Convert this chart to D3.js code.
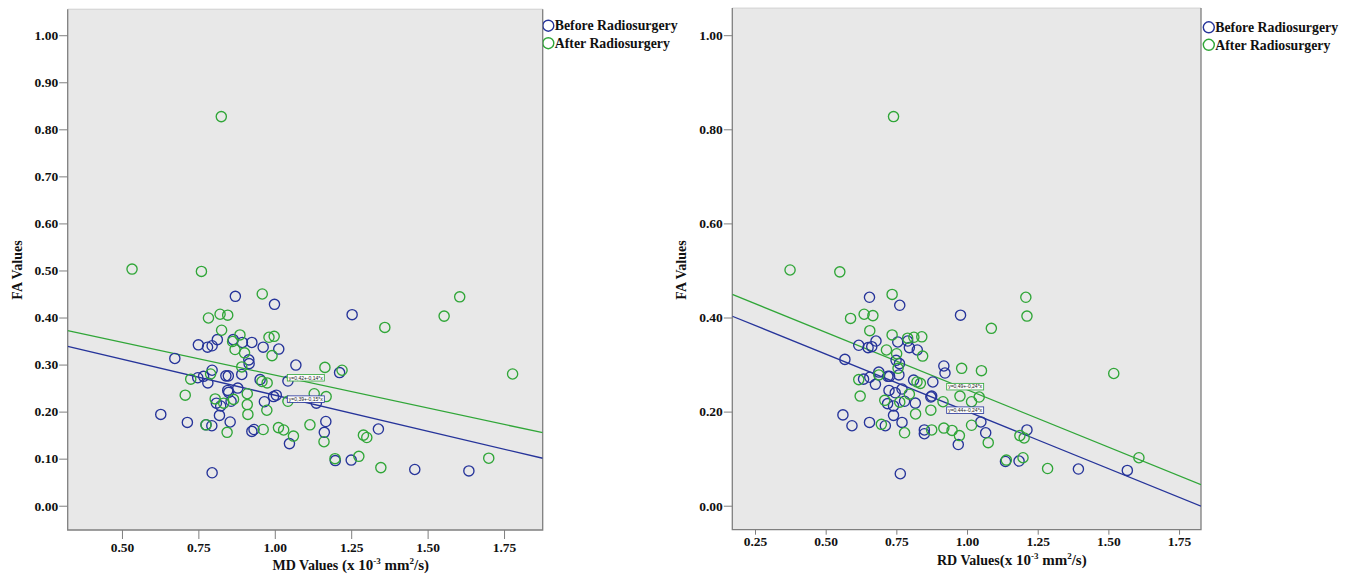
<!DOCTYPE html>
<html lang="en">
<head>
<meta charset="UTF-8">
<title>FA vs MD / RD values</title>
<script src="https://d3js.org/d3.v7.min.js"></script>
<style>
  body { margin: 0; background: #ffffff; }
  svg { display: block; font-family: "Liberation Serif", "Times New Roman", serif; }
  .tick text { font-size: 13.5px; font-weight: bold; fill: #111; font-family: "Liberation Serif", serif; }
  .tick line { stroke: #7f7f7f; }
  .axis-title { font-weight: bold; fill: #111; }
  .legend-text { font-size: 13.8px; font-weight: bold; fill: #111; }
  .fit-label { font-family: "Liberation Sans", Arial, sans-serif; font-size: 5px; fill: #222; }
</style>
</head>
<body>
<svg id="chart" width="1346" height="574"></svg>
<script>
// ---- data ----
const groups = ["Before Radiosurgery", "After Radiosurgery"];
const groupColors = ["#26349a", "#30a638"];

const faTicksMD = [0, 0.1, 0.2, 0.3, 0.4, 0.5, 0.6, 0.7, 0.8, 0.9, 1.0];
const faTicksRD = [0, 0.2, 0.4, 0.6, 0.8, 1.0];
const mdTicks = [0.5, 0.75, 1.0, 1.25, 1.5, 1.75];
const rdTicks = [0.25, 0.5, 0.75, 1.0, 1.25, 1.5, 1.75];

// [MD, FA]
const mdBefore = [
  [0.871,0.445],[0.999,0.428],[1.253,0.406],[0.750,0.342],[0.780,0.337],[0.795,0.340],
  [0.812,0.353],[0.864,0.353],[0.894,0.347],[0.925,0.347],[0.962,0.337],[1.013,0.333],
  [0.673,0.313],[0.915,0.310],[0.916,0.302],[1.069,0.299],[0.748,0.272],[0.767,0.275],
  [0.781,0.261],[0.795,0.288],[0.840,0.276],[0.848,0.276],[0.892,0.279],[0.952,0.268],
  [1.043,0.265],[1.212,0.283],[0.846,0.245],[0.849,0.241],[0.879,0.250],[0.809,0.218],
  [0.823,0.212],[0.857,0.222],[0.966,0.221],[0.996,0.232],[1.005,0.235],[1.136,0.218],
  [0.819,0.192],[0.854,0.178],[0.627,0.194],[0.714,0.177],[0.775,0.172],[0.794,0.170],
  [0.925,0.158],[0.932,0.162],[1.048,0.132],[1.167,0.179],[1.162,0.156],[1.339,0.163],
  [1.198,0.096],[1.250,0.097],[0.795,0.070],[1.458,0.077],[1.635,0.074]
];
const mdAfter = [
  [0.533,0.503],[0.760,0.498],[0.825,0.827],[0.959,0.450],[0.783,0.399],[0.821,0.407],
  [0.846,0.405],[1.605,0.444],[1.554,0.403],[1.360,0.379],[0.826,0.373],[0.886,0.363],
  [0.981,0.358],[0.998,0.360],[0.870,0.332],[0.901,0.325],[0.991,0.319],[1.164,0.294],
  [1.220,0.288],[0.892,0.295],[0.725,0.269],[0.707,0.235],[0.805,0.227],[0.910,0.238],
  [0.975,0.261],[1.043,0.222],[1.129,0.238],[0.912,0.194],[0.974,0.203],[0.844,0.156],
  [0.962,0.162],[1.012,0.166],[1.029,0.161],[1.061,0.148],[1.115,0.172],[1.161,0.136],
  [1.290,0.150],[1.301,0.145],[1.197,0.100],[1.275,0.105],[1.347,0.081],[0.775,0.172],
  [1.778,0.280],[1.700,0.101],[0.958,0.264],[0.790,0.280],[0.833,0.218],[0.865,0.226],
  [0.910,0.215],[1.168,0.232],[0.862,0.349]
];

// [RD, FA]
const rdBefore = [
  [0.655,0.443],[0.762,0.426],[0.977,0.405],[0.617,0.341],[0.650,0.336],[0.663,0.338],
  [0.678,0.350],[0.755,0.348],[0.790,0.350],[0.796,0.336],[0.824,0.331],[0.568,0.311],
  [0.749,0.309],[0.761,0.302],[0.918,0.297],[0.922,0.282],[0.634,0.269],[0.656,0.273],
  [0.676,0.258],[0.688,0.284],[0.720,0.275],[0.726,0.275],[0.759,0.278],[0.811,0.267],
  [0.879,0.263],[0.724,0.245],[0.746,0.240],[0.770,0.248],[0.719,0.217],[0.740,0.212],
  [0.779,0.222],[0.817,0.218],[0.872,0.231],[0.875,0.233],[0.561,0.193],[0.593,0.170],
  [0.655,0.177],[0.740,0.192],[0.770,0.177],[0.849,0.161],[0.849,0.153],[0.711,0.170],
  [0.969,0.130],[0.764,0.068],[1.049,0.178],[1.066,0.155],[1.212,0.161],[1.136,0.094],
  [1.184,0.095],[1.394,0.078],[1.567,0.075]
];
const rdAfter = [
  [0.374,0.501],[0.550,0.497],[0.740,0.827],[0.735,0.449],[0.588,0.398],[0.636,0.407],
  [0.667,0.404],[0.656,0.372],[0.735,0.363],[0.790,0.356],[0.812,0.358],[0.840,0.359],
  [0.715,0.331],[0.843,0.318],[0.981,0.292],[1.051,0.287],[0.756,0.292],[0.617,0.268],
  [0.622,0.233],[0.709,0.224],[0.823,0.263],[0.835,0.260],[0.818,0.195],[0.872,0.203],
  [0.915,0.221],[0.975,0.233],[1.016,0.221],[1.043,0.231],[0.697,0.173],[0.779,0.155],
  [0.875,0.161],[0.918,0.165],[0.947,0.160],[0.973,0.149],[1.016,0.171],[1.075,0.134],
  [1.208,0.443],[1.212,0.403],[1.086,0.377],[1.519,0.281],[1.187,0.149],[1.202,0.144],
  [1.139,0.097],[1.198,0.102],[1.285,0.079],[1.608,0.102],[0.751,0.323],[0.688,0.278],
  [0.762,0.220],[0.796,0.237]
];

// fit lines: FA = a + b * x, with the label position [x, FA]
const mdFits = [
  { a: 0.388, b: -0.153, label: "y=0,39+-0,15*x", at: [1.041, 0.2265] },
  { a: 0.417, b: -0.1395, label: "y=0,42+-0,14*x", at: [1.041, 0.272] }
];
const rdFits = [
  { a: 0.444, b: -0.2434, label: "y=0,44+-0,24*x", at: [0.928, 0.203] },
  { a: 0.4905, b: -0.244, label: "y=0,49+-0,24*x", at: [0.928, 0.253] }
];

// ---- layout ----
const svg = d3.select("#chart");

const panels = [
  {
    id: "md", x0: 67.7, x1: 542.7, y0: 9.2, y1: 530,
    xDomain: [0.3225, 1.8765], yDomain: [-0.0516, 1.0553],
    xTicks: mdTicks, yTicks: faTicksMD, xTickSize: 9, xPad: 3,
    series: [mdBefore, mdAfter], fits: mdFits,
    titleMain: "MD Values", titleGap: " (x 10", titleX: 272.5, titleY: 569.5,
    faX: 17, legendX: 548.3, legendY: 25.7, legendClip: 679
  },
  {
    id: "rd", x0: 732.3, x1: 1201, y0: 8.1, y1: 529.7,
    xDomain: [0.1697, 1.8276], yDomain: [-0.051, 1.0576],
    xTicks: rdTicks, yTicks: faTicksRD, xTickSize: 5, xPad: 1.5,
    series: [rdBefore, rdAfter], fits: rdFits,
    titleMain: "RD Values", titleGap: "(x 10", titleX: 937, titleY: 565,
    faX: 681.5, legendX: 1208.8, legendY: 27.3, legendClip: 1346
  }
];

const defs = svg.append("defs");

panels.forEach(p => {
  const x = d3.scaleLinear().domain(p.xDomain).range([p.x0, p.x1]);
  const y = d3.scaleLinear().domain(p.yDomain).range([p.y1, p.y0]);

  defs.append("clipPath").attr("id", "clip-" + p.id)
    .append("rect").attr("x", p.x0).attr("y", p.y0)
    .attr("width", p.x1 - p.x0).attr("height", p.y1 - p.y0);

  const g = svg.append("g");

  // plot area
  g.append("rect")
    .attr("x", p.x0).attr("y", p.y0)
    .attr("width", p.x1 - p.x0).attr("height", p.y1 - p.y0)
    .attr("fill", "#e8e8e8");
  g.append("path")
    .attr("d", `M${p.x0},${p.y0}H${p.x1}`)
    .attr("stroke", "#d0d0d0").attr("fill", "none");
  g.append("path")
    .attr("d", `M${p.x0},${p.y0}V${p.y1}H${p.x1}V${p.y0}`)
    .attr("stroke", "#7f7f7f").attr("stroke-width", 1.3).attr("fill", "none");

  // axes
  const yAxis = g.append("g")
    .attr("transform", `translate(${p.x0},0)`)
    .call(d3.axisLeft(y).tickValues(p.yTicks).tickFormat(d3.format(".2f"))
      .tickSize(8.5).tickPadding(1));
  yAxis.select(".domain").remove();

  const xAxis = g.append("g")
    .attr("transform", `translate(0,${p.y1})`)
    .call(d3.axisBottom(x).tickValues(p.xTicks).tickFormat(d3.format(".2f"))
      .tickSize(p.xTickSize).tickPadding(p.xPad));
  xAxis.select(".domain").remove();

  // fit lines
  const plot = g.append("g").attr("clip-path", `url(#clip-${p.id})`);
  p.fits.forEach((f, i) => {
    plot.append("line")
      .attr("x1", x(p.xDomain[0])).attr("y1", y(f.a + f.b * p.xDomain[0]))
      .attr("x2", x(p.xDomain[1])).attr("y2", y(f.a + f.b * p.xDomain[1]))
      .attr("stroke", groupColors[i]).attr("stroke-width", 1.3);
  });

  // points: before first, after on top
  p.series.forEach((pts, i) => {
    plot.selectAll(null)
      .data(pts)
      .enter()
      .append("circle")
      .attr("cx", d => x(d[0]))
      .attr("cy", d => y(d[1]))
      .attr("r", 5.1)
      .attr("fill", "none")
      .attr("stroke", groupColors[i])
      .attr("stroke-width", 1.35);
  });

  // fit labels
  p.fits.forEach((f, i) => {
    const lx = x(f.at[0]), ly = y(f.at[1]);
    plot.append("rect")
      .attr("x", lx).attr("y", ly - 3.3)
      .attr("width", 37).attr("height", 6.6)
      .attr("fill", "#fbfbfb")
      .attr("stroke", groupColors[i]).attr("stroke-width", 0.8);
    plot.append("text")
      .attr("class", "fit-label")
      .attr("x", lx + 1.5).attr("y", ly + 1.8)
      .text(f.label);
  });

  // x axis title
  const t = g.append("text").attr("class", "axis-title")
    .attr("x", p.titleX).attr("y", p.titleY);
  t.append("tspan").attr("font-size", "14px").text(p.titleMain);
  t.append("tspan").attr("font-size", "15px").text(p.titleGap);
  t.append("tspan").attr("font-size", "9px").attr("dy", -6).text("-3");
  t.append("tspan").attr("font-size", "15px").attr("dy", 6).text(" mm");
  t.append("tspan").attr("font-size", "9px").attr("dy", -6).text("2");
  t.append("tspan").attr("font-size", "15px").attr("dy", 6).text("/s)");

  // y axis title
  g.append("text").attr("class", "axis-title")
    .attr("font-size", "14px")
    .attr("text-anchor", "middle")
    .attr("transform", `translate(${p.faX},270) rotate(-90)`)
    .attr("dy", "0.35em")
    .text("FA Values");

  // legend
  defs.append("clipPath").attr("id", "legclip-" + p.id)
    .append("rect").attr("x", p.x1).attr("y", 0)
    .attr("width", p.legendClip - p.x1).attr("height", 80);
  const leg = g.append("g").attr("clip-path", `url(#legclip-${p.id})`);
  groups.forEach((name, i) => {
    const ly = p.legendY + i * 17.5;
    leg.append("circle")
      .attr("cx", p.legendX).attr("cy", ly).attr("r", 5.5)
      .attr("fill", "none").attr("stroke", groupColors[i]).attr("stroke-width", 1.4);
    leg.append("text").attr("class", "legend-text")
      .attr("x", p.legendX + 6.5).attr("y", ly + 4.7)
      .text(name);
  });
});
</script>
</body>
</html>
